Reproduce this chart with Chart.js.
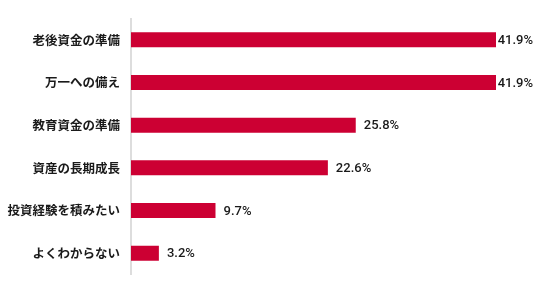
<!DOCTYPE html>
<html lang="ja">
<head>
<meta charset="utf-8">
<script src="https://cdn.jsdelivr.net/npm/chart.js@4.4.0/dist/chart.umd.min.js"></script>
<style>
  html, body { margin: 0; padding: 0; background: #fff; }
  #wrap { position: relative; width: 536px; height: 293px; }
</style>
</head>
<body>
<div id="wrap"><canvas id="chart"></canvas></div>
<script>
// Data
const categories = ['老後資金の準備', '万一への備え', '教育資金の準備', '資産の長期成長', '投資経験を積みたい', 'よくわからない'];
const values = [41.9, 41.9, 25.8, 22.6, 9.7, 3.2];

const barColor = '#cc0033';
const textColor = '#1a1a1a';

// Percent labels at the end of each bar
const valueLabels = {
  id: 'valueLabels',
  afterDatasetsDraw(chart) {
    const ctx = chart.ctx;
    const meta = chart.getDatasetMeta(0);
    ctx.save();
    ctx.font = '500 13px Roboto, "Noto Sans", sans-serif';
    ctx.fillStyle = textColor;
    ctx.textBaseline = 'middle';
    meta.data.forEach((bar, i) => {
      const text = values[i].toFixed(1) + '%';
      const w = ctx.measureText(text).width;
      let x = bar.x + 8;
      if (x + w > chart.width - 3) x = chart.width - 3 - w;
      ctx.fillText(text, x, bar.y + 1);
    });
    ctx.restore();
  }
};

new Chart(document.getElementById('chart'), {
  type: 'bar',
  data: {
    labels: categories,
    datasets: [{
      data: values,
      backgroundColor: barColor,
      barPercentage: 0.35,
      categoryPercentage: 1
    }]
  },
  options: {
    indexAxis: 'y',
    responsive: true,
    maintainAspectRatio: false,
    animation: false,
    layout: { padding: { top: 13, bottom: 15, left: 0, right: 40 } },
    plugins: {
      legend: { display: false },
      tooltip: { enabled: false }
    },
    scales: {
      x: {
        display: false,
        min: 0,
        max: Math.max(...values)
      },
      y: {
        afterFit(scale) { scale.width = 131; },
        grid: { display: false, drawTicks: false },
        border: { display: true, color: '#dddddd', width: 2 },
        ticks: {
          padding: 11,
          color: textColor,
          font: { family: '"Noto Sans CJK JP", sans-serif', size: 12.5, weight: 'bold' }
        }
      }
    }
  },
  plugins: [valueLabels]
});
</script>
</body>
</html>
